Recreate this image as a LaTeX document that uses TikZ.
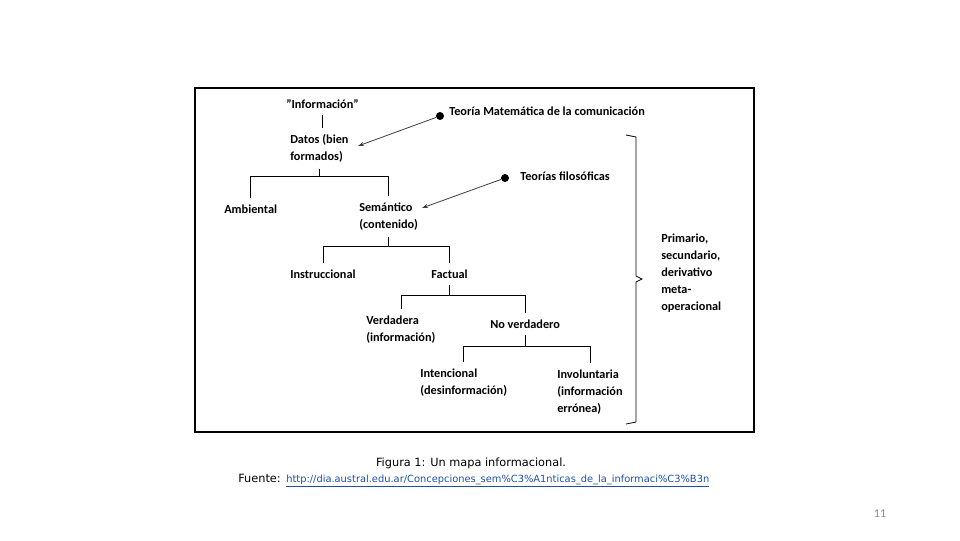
\documentclass[tikz,border=0pt]{standalone}
\usepackage{fontspec}
\setmainfont{Carlito}
\newfontfamily\capfont{DejaVu Sans}
\usetikzlibrary{arrows.meta}
\definecolor{linkblue}{RGB}{30,80,165}
\definecolor{numgray}{RGB}{137,137,137}
\definecolor{arrowgray}{RGB}{60,60,60}

\begin{document}
\begin{tikzpicture}
  [x=0.75pt,y=-0.75pt,
   every node/.style={anchor=west,inner xsep=0pt,inner ysep=5pt,align=left,
     font=\bfseries\fontsize{9.2}{12.75}\selectfont},
   dot/.style={circle,fill=black,inner sep=0pt,minimum size=6pt,anchor=center},
   pointer/.style={arrowgray,line width=0.6pt,-{Stealth[length=4.5pt,width=3pt]}}]
  \useasboundingbox (0,0) rectangle (960,540);
  \draw[line width=0.9pt] (195,88) rectangle (754,432);

  % the map
  \node (inf) at (286,104) {"Información"};
  \node (dat) at (290,148.5) {Datos (bien\\formados)};
  \node (amb) at (224,209) {Ambiental};
  \node (sem) at (359,216.5) {Semántico\\(contenido)};
  \node (ins) at (290,274) {Instruccional};
  \node (fac) at (431,274) {Factual};
  \node (ver) at (366,330) {Verdadera\\(información)};
  \node (nov) at (490,324) {No verdadero};
  \node (int) at (420,383) {Intencional\\(desinformación)};
  \node (inv) at (557,392.5) {Involuntaria\\(información\\errónea)};

  \draw (inf.south) -- (inf.south |- dat.north);
  \foreach \p/\l/\r/\y in {dat/amb/sem/176,sem/ins/fac/246,fac/ver/nov/295,nov/int/inv/346}
    \draw (\p.south) -- (\p.south |- 0,\y)
          (\l.north) -- (\l.north |- 0,\y) -- (\r.north |- 0,\y) -- (\r.north);

  % theories
  \node[dot] (d1) at (440,116) {};
  \node[dot] (d2) at (505,178) {};
  \node (tmc) at (449,111) {Teoría Matemática de la comunicación};
  \node (tfi) at (520,176) {Teorías filosóficas};
  \coordinate (a1) at (358,146);
  \coordinate (a2) at (422,208);
  \draw[pointer] (d1) -- (a1);
  \draw[pointer] (d2) -- (a2);

  % levels
  \draw[line width=0.6pt] (626,135) -- (636,137) -- (636,276) -- (642,279) -- (636,282) -- (636,422) -- (626,424);
  \node (lev) at (661,273) {Primario,\\secundario,\\derivativo\\meta-\\operacional};

  % caption
  \node[anchor=center,font=\capfont\fontsize{8.5}{10}\selectfont] (cap) at (471,463) {Figura 1: Un mapa informacional.};
  \node[anchor=base west,font=\capfont\fontsize{8.5}{10}\selectfont] (fue) at (238,482) {Fuente:};
  \node[anchor=base west,font=\capfont\fontsize{7.4}{9}\selectfont,text=linkblue] (url) at (286,482)
    {\underline{http://dia.austral.edu.ar/Concepciones\_sem\%C3\%A1nticas\_de\_la\_informaci\%C3\%B3n}};
  \node[anchor=center,font=\fontsize{9}{10}\selectfont,text=numgray] (pg) at (880,514) {11};
\end{tikzpicture}
\end{document}
